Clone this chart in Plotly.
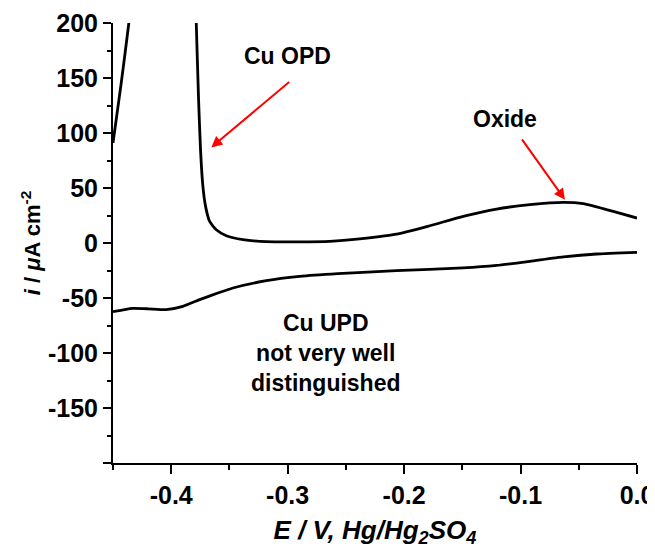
import plotly.graph_objects as go

# ---- data ----
left_E = [-0.45, -0.4465, -0.443, -0.4397, -0.4364, -0.4356]
left_i = [91, 118, 145, 172, 200, 206]

upper_E = [-0.3787, -0.3785, -0.3765, -0.3748, -0.3728, -0.3705, -0.367, -0.3613,
           -0.3527, -0.3384, -0.3183, -0.2897, -0.2639, -0.245, -0.2066, -0.1779,
           -0.1493, -0.1206, -0.092, -0.0633, -0.0461, -0.0204, 0.0]
upper_i = [207, 200, 130, 84, 51.5, 33.3, 19.6, 12, 6.6, 3.0, 1.2, 1.0, 1.5, 3.0,
           8.0, 15.7, 24.2, 30.9, 34.8, 36.9, 35.7, 28.7, 22.7]

lower_E = [-0.45, -0.44, -0.433, -0.42, -0.4043, -0.39, -0.3756, -0.36, -0.347,
           -0.3183, -0.2897, -0.2568, -0.2066, -0.1493, -0.1206, -0.092, -0.0633,
           -0.0347, 0.0]
lower_i = [-62.5, -60.5, -59.5, -59.8, -60.6, -57.6, -51.5, -45.5, -40.9, -34.3,
           -30.4, -27.9, -25.2, -22.7, -20.4, -16.7, -12.7, -10.0, -8.5]

x_ticks = [-0.4, -0.3, -0.2, -0.1, 0.0]
x_ticktext = ["-0.4", "-0.3", "-0.2", "-0.1", "0.0"]
y_ticks = [200, 150, 100, 50, 0, -50, -100, -150, -200]
y_ticktext = ["200", "150", "100", "50", "0", "-50", "-100", "-150", ""]

FONT = "Arial, Liberation Sans, Helvetica, sans-serif"
line = dict(color="black", width=2.8, shape="spline", smoothing=0.5)

fig = go.Figure()
fig.add_trace(go.Scatter(x=left_E, y=left_i, mode="lines", line=line, showlegend=False))
fig.add_trace(go.Scatter(x=upper_E, y=upper_i, mode="lines", line=line, showlegend=False))
fig.add_trace(go.Scatter(x=lower_E, y=lower_i, mode="lines", line=line, showlegend=False))

txt_font = dict(family=FONT, size=23, color="black", weight="bold")
annotations = [
    dict(x=-0.3004, y=169.6, text="Cu OPD", showarrow=False, font=txt_font),
    dict(x=-0.1135, y=112.5, text="Oxide", showarrow=False, font=txt_font),
    dict(x=-0.2673, y=-100, text="Cu UPD<br>not very well<br>distinguished",
         showarrow=False, font=txt_font, align="center"),
    dict(x=-0.3656, y=86.9, ax=-0.2974, ay=147.5, axref="x", ayref="y", text="",
         showarrow=True, arrowhead=2, arrowsize=1.1, arrowwidth=2, arrowcolor="red"),
    dict(x=-0.0619, y=39.4, ax=-0.0997, ay=95.5, axref="x", ayref="y", text="",
         showarrow=True, arrowhead=2, arrowsize=1.1, arrowwidth=2, arrowcolor="red"),
]

# page body has an 8px default margin, so the figure is 8px smaller than the window
fig.update_layout(
    width=647, height=540,
    margin=dict(l=105, r=18, t=15, b=85),
    paper_bgcolor="white", plot_bgcolor="white",
    annotations=annotations,
    font=dict(family=FONT, color="black"),
)
fig.update_xaxes(
    range=[-0.45, 0.0], tickvals=x_ticks, ticktext=x_ticktext, automargin=False,
    showgrid=False, zeroline=False, showline=True, linecolor="black", linewidth=2,
    ticks="outside", ticklen=9, tickwidth=2, tickcolor="black",
    minor=dict(dtick=0.05, tick0=0, ticks="outside", ticklen=5, tickwidth=2, tickcolor="black"),
    tickfont=dict(family=FONT, size=25, color="black", weight="bold"),
    title=dict(text="<b><i>E / V, Hg/Hg<sub>2</sub>SO<sub>4</sub></i></b>",
               font=dict(family=FONT, size=26, color="black"), standoff=17),
)
fig.update_yaxes(
    range=[-200, 200], tickvals=y_ticks, ticktext=y_ticktext, automargin=False,
    showgrid=False, zeroline=False, showline=True, linecolor="black", linewidth=2,
    ticks="outside", ticklen=8, tickwidth=2, tickcolor="black",
    minor=dict(dtick=25, tick0=0, ticks="outside", ticklen=4, tickwidth=2, tickcolor="black"),
    tickfont=dict(family=FONT, size=25, color="black", weight="bold"),
    title=dict(text="<b><i>i</i> / <i>μ</i>A cm<sup>-2</sup></b>",
               font=dict(family=FONT, size=22, color="black"), standoff=1),
)

fig.write_html("out.html")
